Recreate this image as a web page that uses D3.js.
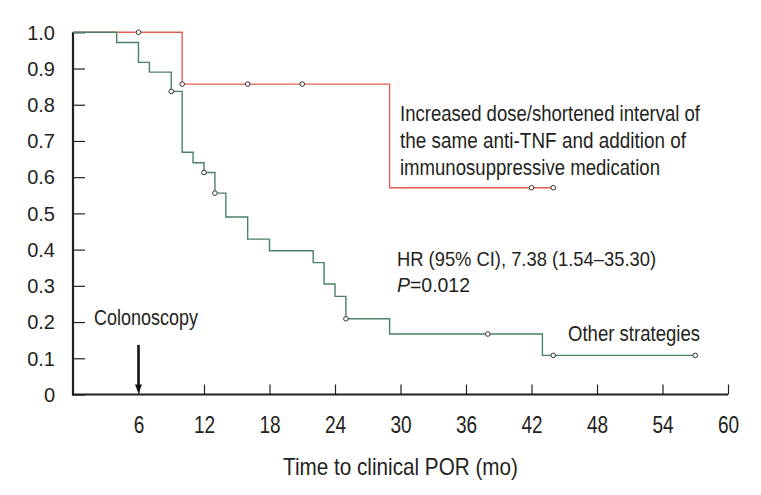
<!DOCTYPE html>
<html>
<head>
<meta charset="utf-8">
<script src="https://cdn.jsdelivr.net/npm/d3@7"></script>
<style>
  html, body { margin: 0; padding: 0; background: #fff; }
  svg { display: block; }
  text { font-family: "Liberation Sans", Arial, sans-serif; fill: #231f20; }
</style>
</head>
<body>
<svg id="chart" width="761" height="495"></svg>
<script>
// ---- data ----
const xTicks = [6, 12, 18, 24, 30, 36, 42, 48, 54, 60];
const yTicks = [0, 0.1, 0.2, 0.3, 0.4, 0.5, 0.6, 0.7, 0.8, 0.9, 1.0];
const yTickLabels = ["0", "0.1", "0.2", "0.3", "0.4", "0.5", "0.6", "0.7", "0.8", "0.9", "1.0"];

// Red: increased dose / shortened interval + immunosuppressive
const redTimes = [0, 10, 29];
const redSurv = [1.0, 0.857, 0.571];
const redEnd = 44;
const redCensor = [6, 10, 16, 21, 42, 44];

// Green: other strategies
const greenTimes = [0, 4, 6, 7, 9, 10, 11, 12, 13, 14, 16, 18, 22, 23, 24, 25, 29, 43];
const greenSurv = [1.0, 0.972, 0.917, 0.890, 0.837, 0.669, 0.640, 0.613, 0.556, 0.490, 0.429, 0.397, 0.364, 0.305, 0.271, 0.209, 0.167, 0.108];
const greenEnd = 57;
const greenCensor = [9, 12, 13, 25, 38, 44, 57];

const colonoscopyTime = 6;
const arrowTopValue = 0.137;

// ---- setup ----
const svg = d3.select("#chart");
const x = d3.scaleLinear().domain([0, 60]).range([73, 728]);
const y = d3.scaleLinear().domain([0, 1]).range([394.5, 32.3]);

const redColor = "#e2604e";
const greenColor = "#4a8264";

function stepPoints(times, surv, end) {
  const pts = times.map((t, i) => [t, surv[i]]);
  pts.push([end, surv[surv.length - 1]]);
  return pts;
}
function survAt(times, surv, t) {
  let s = surv[0];
  for (let i = 0; i < times.length; i++) if (times[i] <= t) s = surv[i];
  return s;
}

const line = d3.line().x(d => x(d[0])).y(d => y(d[1])).curve(d3.curveStepAfter);

// ---- axes ----
const yAxis = d3.axisLeft(y).tickValues(yTicks).tickFormat((d, i) => yTickLabels[i])
  .tickSizeInner(-12).tickSizeOuter(0).tickPadding(18);
const gy = svg.append("g").attr("transform", `translate(${x(0)},0)`).call(yAxis);
gy.select(".domain").attr("stroke", "#231f20").attr("stroke-width", 2.2);
gy.selectAll(".tick line").attr("stroke", "#231f20").attr("stroke-width", 1.2);
gy.selectAll(".tick text").style("font-size", "20px").attr("dy", "0.34em").attr("fill", "#231f20");

const xAxis = d3.axisBottom(x).tickValues(xTicks).tickSizeInner(-10).tickSizeOuter(0);
const gx = svg.append("g").attr("transform", `translate(0,${y(0)})`).call(xAxis);
gx.select(".domain").attr("stroke", "#231f20").attr("stroke-width", 2.2);
gx.selectAll(".tick line").attr("stroke", "#231f20").attr("stroke-width", 1.2);
gx.selectAll(".tick text").style("font-size", "23px").attr("dy", null).attr("y", 38).attr("fill", "#231f20")
  .attr("textLength", d => String(d).length * 10.6).attr("lengthAdjust", "spacingAndGlyphs");
gx.select(".domain").attr("d", `M${x(0) - 1},0H${x(60)}`);
gy.select(".domain").attr("d", `M0,${y(1)}V${y(0) + 1}`);

// ---- curves ----
svg.append("path").datum(stepPoints(redTimes, redSurv, redEnd))
  .attr("d", line).attr("fill", "none").attr("stroke", redColor).attr("stroke-width", 1.4);
svg.append("path").datum(stepPoints(greenTimes, greenSurv, greenEnd))
  .attr("d", line).attr("fill", "none").attr("stroke", greenColor).attr("stroke-width", 1.4);

// censor marks
function censorMarks(times, surv, cens) {
  svg.append("g").selectAll("circle").data(cens).join("circle")
    .attr("cx", d => x(d)).attr("cy", d => y(survAt(times, surv, d)))
    .attr("r", 2.3).attr("fill", "#fff").attr("stroke", "#333").attr("stroke-width", 1);
}
censorMarks(redTimes, redSurv, redCensor);
censorMarks(greenTimes, greenSurv, greenCensor);

// ---- annotations ----
const ax = x(colonoscopyTime);
svg.append("line").attr("x1", ax).attr("x2", ax).attr("y1", y(arrowTopValue)).attr("y2", y(0) - 8)
  .attr("stroke", "#111").attr("stroke-width", 2.6);
svg.append("path").attr("d", `M${ax - 3.5},${y(0) - 10}L${ax + 3.5},${y(0) - 10}L${ax},${y(0) - 1}Z`).attr("fill", "#111");

function label(xp, yp, txt, size, len) {
  return svg.append("text").attr("x", xp).attr("y", yp).style("font-size", size + "px")
    .attr("textLength", len).attr("lengthAdjust", "spacingAndGlyphs").text(txt);
}

label(94, 325, "Colonoscopy", 22, 104);

const redLabel = ["Increased dose/shortened interval of", "the same anti-TNF and addition of", "immunosuppressive medication"];
const redLens = [300, 286, 260];
redLabel.forEach((t, i) => label(400, 121 + i * 27.2, t, 22, redLens[i]));

label(397, 266, "HR (95% CI), 7.38 (1.54–35.30)", 21, 259);
const pt = svg.append("text").attr("x", 397).attr("y", 292).style("font-size", "21px")
  .attr("textLength", 73).attr("lengthAdjust", "spacingAndGlyphs");
pt.append("tspan").style("font-style", "italic").text("P");
pt.append("tspan").text("=0.012");

label(568, 341, "Other strategies", 22, 132);

label(283, 475, "Time to clinical POR (mo)", 24, 235);
</script>
</body>
</html>
